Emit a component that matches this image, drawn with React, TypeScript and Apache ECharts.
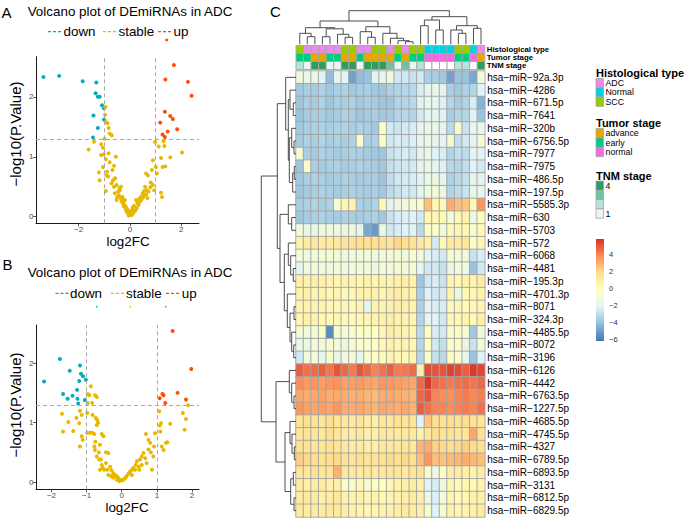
import React, { useEffect, useRef } from 'react';
import * as echarts from 'echarts';

const FONT = '"Liberation Sans", Arial, Helvetica, sans-serif';

// ---------- Volcano data ----------
const volcanoColors = { down: '#00AFBB', stable: '#E7B800', up: '#FC4E07' };

const aDown = [[-3.37,2.33],[-2.76,2.35],[-1.84,2.26],[-1.31,2.24],[-1.34,2.06],[-1.25,2.0],[-1.18,2.0],[-1.09,1.86],[-1.01,1.81],[-1.42,1.69],[-1.01,1.62],[-1.25,1.48],[-1.44,1.32]];
const aUp = [[1.71,2.53],[1.38,2.29],[2.26,2.25],[2.40,2.02],[1.36,1.75],[1.57,1.68],[1.67,1.63],[1.18,1.57],[1.84,1.46],[1.47,1.42],[1.27,1.37],[1.36,1.33]];
const aStable = [[-0.96,1.83],[-0.94,1.58],[-0.88,1.56],[-0.83,1.48],[-0.79,1.39],[-0.71,1.36],[-1.40,1.25],[-1.61,1.12],[-1.12,1.21],[-1.05,1.15],[-1.12,1.03],[-1.02,1.04],[-0.83,1.06],[-0.94,0.96],[-0.79,0.91],[-0.55,1.0],[-0.62,0.85],[-0.68,0.78],[-0.89,0.75],[-1.21,0.74],[-0.85,0.67],[-0.66,0.61],[-0.72,0.56],[-1.18,0.61],[-0.94,0.43],[-0.58,0.64],[-0.52,0.53],[-0.46,0.42],[-0.59,0.39],[-0.39,0.44],[-0.50,0.33],[-0.37,0.31],[-0.33,0.25],[-0.26,0.21],[-0.24,0.17],[-0.16,0.11],[-0.09,0.07],[0.0,0.04],[0.07,0.03],[0.13,0.06],[0.20,0.10],[0.26,0.14],[0.33,0.19],[0.39,0.25],[0.46,0.29],[0.52,0.33],[0.63,0.37],[0.66,0.44],[0.59,0.5],[0.72,0.42],[0.79,0.49],[0.81,0.57],[0.63,0.72],[0.70,0.69],[0.85,0.78],[0.89,0.94],[1.01,0.83],[1.05,0.72],[0.94,0.44],[1.21,0.40],[1.25,0.33],[1.12,1.17],[1.21,0.98],[1.27,0.83],[1.38,0.84],[1.57,0.99],[2.03,1.07],[1.31,1.26],[1.34,1.18],[0.98,1.25],[-0.18,0.18],[-0.13,0.14],[-0.08,0.11],[0.03,0.09],[0.10,0.12],[-0.07,0.06],[-0.20,0.28],[-0.29,0.33],[-0.43,0.36],[-0.62,0.5],[0.16,0.18],[0.29,0.23],[0.37,0.3],[0.49,0.39],[0.55,0.43],[0.24,0.28],[0.42,0.33],[-1.05,0.83],[-0.92,0.69],[-0.35,0.5],[-0.52,0.28],[-0.24,0.25],[0.89,0.53],[-0.05,0.02],[0.05,0.05],[-0.12,0.08],[0.11,0.16],[-0.30,0.27],[-0.41,0.47],[0.58,0.36],[0.68,0.31],[-0.97,1.70],[-0.99,1.30]];

const bDown = [[-2.21,1.69],[-1.76,2.07],[-1.48,1.87],[-1.19,1.96],[-1.16,1.82],[-1.10,1.78],[-1.02,1.72],[-1.21,1.70],[-1.67,1.48],[-1.40,1.45],[-1.54,1.40],[-1.27,1.55],[-1.26,1.40],[-1.24,1.32],[-1.05,1.38]];
const bUp = [[1.45,2.54],[1.98,1.90],[1.59,1.50],[1.16,1.48],[1.19,1.46],[1.08,1.41],[1.24,1.33],[1.83,1.39]];
const bStable = [[-0.88,1.61],[-0.97,1.48],[-0.92,1.46],[-0.76,1.46],[-0.71,1.43],[-0.84,1.33],[-0.97,1.33],[-0.98,1.16],[-0.83,1.13],[-0.74,1.08],[-0.70,1.05],[-0.67,1.0],[-0.71,0.96],[-1.70,1.15],[-1.52,1.01],[-1.67,0.85],[-1.38,0.86],[-1.29,1.08],[-1.21,0.99],[-1.19,1.20],[-1.14,1.13],[-0.90,0.83],[-0.84,0.83],[-0.98,0.83],[-1.14,0.77],[-1.11,0.71],[-1.19,0.60],[-0.78,0.81],[-0.57,0.81],[-0.52,0.77],[-0.75,0.68],[-0.62,0.63],[-0.65,0.50],[-0.45,0.50],[-0.38,0.49],[-0.59,0.38],[-0.45,0.32],[-0.54,0.24],[-0.50,0.21],[-0.41,0.21],[-0.33,0.26],[-0.29,0.20],[-0.24,0.15],[-0.19,0.12],[-0.14,0.10],[-0.10,0.07],[-0.05,0.04],[0.0,0.03],[0.05,0.04],[0.10,0.07],[0.14,0.10],[0.19,0.14],[0.24,0.18],[0.29,0.21],[0.33,0.24],[0.40,0.29],[0.43,0.35],[0.52,0.38],[0.57,0.43],[0.62,0.49],[0.69,0.81],[0.76,0.71],[0.81,0.66],[0.76,0.55],[0.83,0.50],[0.92,0.60],[0.95,0.82],[0.90,0.43],[0.86,0.21],[0.71,0.32],[0.67,0.40],[1.07,1.19],[1.12,0.99],[1.08,0.95],[1.10,0.85],[1.14,0.60],[1.19,0.54],[1.26,0.66],[1.30,0.67],[1.38,0.98],[1.74,1.16],[1.83,1.06],[1.79,0.88],[1.89,1.29],[-0.78,0.60],[-0.76,0.54],[-0.71,0.43],[-0.64,0.38],[-0.57,0.29],[-0.62,0.21],[-0.38,0.12],[-0.30,0.10],[-0.24,0.08],[-0.14,0.04],[-0.07,0.02],[0.29,0.12],[0.38,0.21],[0.48,0.26],[0.57,0.29],[0.50,0.21]];

const xTicksA = [-2, 0, 2];
const yTicksA = [0, 1, 2];
const xTicksB = [-2, -1, 0, 1, 2];
const yTicksB = [0, 1, 2];
const fcCutoffs = [-1, 1];
const pCutoff = 1.301;

// ---------- Heatmap data ----------
const rowNames = ['hsa−miR−92a.3p','hsa−miR−4286','hsa−miR−671.5p','hsa−miR−7641','hsa−miR−320b','hsa−miR−6756.5p','hsa−miR−7977','hsa−miR−7975','hsa−miR−486.5p','hsa−miR−197.5p','hsa−miR−5585.3p','hsa−miR−630','hsa−miR−5703','hsa−miR−572','hsa−miR−6068','hsa−miR−4481','hsa−miR−195.3p','hsa−miR−4701.3p','hsa−miR−8071','hsa−miR−324.3p','hsa−miR−4485.5p','hsa−miR−8072','hsa−miR−3196','hsa−miR−6126','hsa−miR−4442','hsa−miR−6763.5p','hsa−miR−1227.5p','hsa−miR−4685.5p','hsa−miR−4745.5p','hsa−miR−4327','hsa−miR−6789.5p','hsa−miR−6893.5p','hsa−miR−3131','hsa−miR−6812.5p','hsa−miR−6829.5p'];
const sampleIds = ['S1','S2','S3','S4','S5','S6','S7','S8','S9','S10','S11','S12','S13','S14','S15','S16','S17','S18','S19','S20','S21','S22','S23','S24','S25'];

const expr = [
[-1.2,-1.6,-1.6,-2.2,-4.2,-1.8,-2.0,-5.0,-4.2,-4.0,-2.0,-1.8,-1.2,-2.6,-2.6,-2.8,-2.6,-3.6,-3.6,-3.8,-5.0,-4.0,-4.0,-4.8,-1.2],
[-3.8,-3.6,-3.7,-3.5,-3.8,-3.6,-3.5,-3.8,-3.7,-3.6,-3.8,-3.9,-3.5,-3.4,-3.3,-3.2,-2.4,-1.8,-1.6,-2.0,-3.6,-3.8,-3.5,-3.4,-2.2],
[-3.9,-3.6,-3.7,-3.5,-3.9,-3.6,-3.6,-3.5,-3.8,-3.6,-3.7,-3.9,-3.9,-3.4,-3.3,-3.2,-2.2,-1.6,-1.9,-2.3,-3.3,-3.7,-3.4,-2.4,-4.5],
[-4.0,-3.7,-3.6,-3.6,-3.8,-3.7,-3.5,-3.6,-3.9,-3.7,-3.6,-3.8,-3.7,-3.3,-3.2,-3.3,-2.5,-2.0,-1.8,-2.2,-3.6,-3.4,-3.3,-2.2,-4.0],
[-3.8,-3.6,-3.5,-3.5,-3.6,-3.5,-3.4,-3.6,-3.5,-3.6,-3.8,-0.4,-2.6,-2.7,-2.5,-2.4,-1.8,-1.5,-1.6,-2.0,-3.2,-0.8,-2.8,-1.8,-1.6],
[-3.7,-3.5,-3.6,-3.4,-3.6,-3.5,-3.6,-3.5,-0.6,-3.6,-3.5,-0.5,-2.6,-2.4,-2.5,-2.3,-1.9,-1.4,-1.8,-2.0,-0.9,-3.0,-2.6,-1.9,-0.8],
[-0.8,-3.6,-3.7,-3.5,-3.6,-3.7,-3.6,-3.5,-3.6,-3.7,-3.8,-3.9,-2.8,-2.6,-2.4,-2.6,-2.0,-1.6,-2.2,-2.4,-3.4,-3.0,-3.1,-2.0,-2.2],
[-3.9,-0.6,-3.6,-3.7,-3.6,-3.5,-3.7,-3.6,-3.5,-3.6,-3.7,-3.8,-2.9,-2.7,-2.6,-2.5,-1.8,-1.5,-1.8,-2.3,-3.2,-3.3,-3.0,-2.2,-2.6],
[-3.8,-3.6,-3.5,-3.6,-3.7,-3.6,-3.5,-3.6,-3.7,-3.6,-3.6,-3.9,-3.0,-2.6,-2.5,-2.4,-2.2,-1.6,-1.5,-1.9,-3.5,-3.2,-2.9,-1.8,-2.0],
[-3.9,-3.7,-3.6,-3.5,-3.6,-3.7,-3.6,-3.5,-3.6,-3.7,-3.6,-3.8,-3.1,-2.8,-2.5,-2.6,-2.1,-1.2,-1.0,-1.6,-3.4,-3.1,-2.8,-1.6,-1.8],
[-3.6,-3.5,-3.4,-3.6,-3.5,-0.8,0.4,0.6,-3.5,-3.6,-3.4,0.2,-2.0,-1.4,-1.2,-1.0,-0.6,2.6,0.4,0.2,3.0,2.6,2.4,0.3,3.6],
[-3.9,-3.7,-3.6,-3.5,-3.6,-3.7,-3.5,-3.6,-3.7,-3.6,-3.5,-3.8,-2.8,-2.4,-2.3,-2.2,-2.6,0.3,0.4,0.2,-1.0,0.2,0.5,-1.4,-0.2],
[-1.2,-1.6,-1.5,-1.4,-1.3,-1.4,-1.5,-1.3,-1.8,-4.8,-5.2,-1.6,-2.6,-2.4,-2.2,-2.0,-3.2,-0.6,-0.4,-1.2,0.1,0.4,0.3,-0.8,0.2],
[0.8,1.0,1.2,1.0,1.1,1.3,1.5,1.6,1.8,1.8,1.7,1.6,1.5,2.0,1.8,1.4,1.2,0.6,-2.5,0.2,1.2,1.1,1.4,-0.6,0.4],
[-1.0,-1.2,-1.0,-1.1,-0.8,-1.0,-1.2,-1.1,-0.9,-1.0,-1.2,-1.0,-0.9,-1.0,-1.1,-0.8,-0.9,-2.0,-2.4,-2.6,-0.8,-1.0,-1.2,-2.8,-2.4],
[-1.8,-1.2,-1.0,-1.2,-1.4,-1.0,-1.2,-1.0,-1.1,-1.2,-1.3,-1.0,-1.1,-0.9,-1.0,-0.9,-1.8,-2.6,-2.6,-2.9,-1.4,-1.0,-1.2,-4.0,-2.6],
[0.8,0.6,0.8,0.7,0.5,0.4,0.6,0.5,0.4,0.6,0.4,0.5,0.5,0.7,0.8,0.6,-3.9,-2.6,-2.4,-2.8,0.4,0.2,0.6,0.5,0.9],
[0.6,0.8,0.5,0.6,0.4,0.5,0.2,0.3,0.6,0.5,0.6,0.4,0.8,0.9,0.7,0.6,-3.6,-2.2,-2.6,-2.5,0.5,-1.6,0.3,0.4,0.6],
[0.5,0.6,0.6,0.5,0.3,0.2,0.4,0.2,0.5,-1.8,0.6,0.5,0.7,0.9,0.8,0.5,-3.5,-2.0,-2.4,-2.4,0.2,0.4,0.1,0.3,0.5],
[0.4,0.6,0.5,0.3,0.2,0.3,0.2,0.1,0.3,0.4,0.5,0.6,0.8,0.6,0.5,0.4,-3.4,-1.8,-2.2,-2.6,0.4,0.3,0.5,0.1,0.6],
[-0.9,-1.1,-0.8,-0.6,-5.6,-0.8,-1.0,-0.6,-0.4,-0.6,-0.2,0.4,0.8,0.6,0.5,0.4,-3.2,-0.4,-2.4,-2.6,-0.6,-0.4,-0.9,-3.8,-1.2],
[-1.6,-1.4,-1.0,-1.2,-0.8,-1.1,-1.3,-0.9,-0.6,-0.5,-0.4,0.2,0.6,0.4,0.5,0.3,-3.3,-0.2,-2.6,-3.0,-0.4,-0.6,-1.5,-2.8,-1.0],
[-2.6,-1.2,-1.0,-1.8,-0.6,-1.6,-1.2,-1.0,-1.9,-0.6,-0.4,0.1,0.5,0.3,0.2,0.4,-3.4,-0.8,-2.9,-3.2,-0.3,-0.4,-1.8,-4.0,-2.2],
[4.8,4.4,4.5,4.8,4.3,5.0,4.6,4.2,5.0,4.6,4.0,4.4,4.8,4.2,4.3,4.5,0.8,5.2,5.0,5.0,5.4,5.2,4.8,5.6,5.3],
[3.8,3.5,3.6,3.4,3.6,3.7,3.3,3.4,3.5,3.3,3.2,3.6,3.5,3.4,3.3,3.2,4.6,5.6,4.6,4.4,4.2,4.4,4.5,4.3,4.6],
[3.2,3.0,3.1,3.3,3.0,3.1,3.0,2.9,3.0,2.8,2.7,3.0,3.1,3.0,2.9,2.8,4.6,5.0,4.0,3.8,3.7,4.0,4.2,3.9,4.1],
[3.6,3.3,3.2,3.4,3.2,3.6,3.0,3.1,3.2,3.0,2.8,3.2,3.1,3.0,3.2,2.9,4.8,4.4,4.0,4.0,3.8,4.0,4.2,4.0,4.4],
[1.6,1.8,1.6,1.4,1.8,1.5,1.3,1.2,1.5,1.0,0.8,1.4,1.3,1.6,1.5,1.4,-2.2,2.4,1.8,1.6,1.8,1.6,1.8,1.6,1.5],
[1.5,1.6,1.4,1.3,1.8,1.4,1.0,0.9,1.2,0.6,0.8,1.2,1.3,1.0,1.2,1.1,0.6,1.4,1.8,1.6,1.6,1.4,1.5,3.2,1.6],
[1.8,1.6,1.5,1.4,1.6,1.5,1.2,1.0,1.1,0.8,0.7,1.2,1.3,1.2,1.4,1.3,2.8,3.0,2.2,2.0,1.8,2.0,2.2,1.9,1.8],
[2.2,2.0,1.8,1.6,1.8,2.0,1.6,1.4,1.8,1.5,1.4,1.7,1.9,1.8,2.0,1.8,2.6,3.6,2.6,2.5,2.7,2.8,3.0,2.8,2.6],
[1.5,1.3,1.6,1.4,1.5,2.9,1.3,1.2,1.1,1.3,1.0,1.2,1.4,1.3,1.2,1.5,1.6,-0.8,-1.4,-0.4,0.9,1.0,0.8,0.6,0.9],
[1.0,0.8,0.9,1.1,0.6,0.8,-0.4,-0.6,0.2,-0.8,-0.4,-0.2,0.4,0.5,0.8,0.9,0.6,-2.0,-2.4,-1.2,0.3,0.1,0.4,0.2,0.5],
[1.0,1.1,0.9,0.7,1.0,1.2,0.6,0.5,0.7,0.4,0.6,0.3,0.5,0.6,0.8,1.0,0.7,-1.5,-2.3,-1.0,0.4,0.2,0.3,0.6,0.7],
[1.2,1.0,1.1,0.9,1.2,1.3,0.8,0.6,0.5,0.3,0.4,0.6,0.7,0.9,1.1,1.0,0.8,-0.8,-2.2,-0.6,0.6,0.4,0.5,0.8,1.0],
];

const colorbarTicks = [-6, -4, -2, 0, 2, 4];
const colorbarRange = [-6.2, 5.8];
const heatPalette = ['#4575B4', '#91BFDB', '#E0F3F8', '#FFFFBF', '#FEE090', '#FC8D59', '#D73027'];

// ---------- Column annotations ----------
const annotationNames = ['Histological type', 'Tumor stage', 'TNM stage'];
const histType = ['SCC','ADC','ADC','ADC','ADC','ADC','SCC','SCC','ADC','ADC','SCC','SCC','ADC','SCC','ADC','SCC','SCC','Normal','Normal','Normal','Normal','SCC','SCC','Normal','ADC'];
const tumorStage = ['early','early','advance','advance','early','early','advance','advance','early','advance','advance','advance','advance','early','advance','early','early','normal','normal','normal','normal','early','early','normal','advance'];
const tnmStage = [2,1,4,4,1,1,4,4,1,4,4,4,3,1,3,1,2,0,0,0,0,2,2,0,4];

const histLevels = ['ADC', 'Normal', 'SCC'];
const histColors: Record<string, string> = { ADC: '#E88BE9', Normal: '#00D3E0', SCC: '#99CC00' };
const stageLevels = ['advance', 'early', 'normal'];
const stageColors: Record<string, string> = { advance: '#E6A800', early: '#00CC7F', normal: '#F26AE0' };
const tnmLevels = [4, 3, 2, 1];
const tnmColors: Record<number, string> = { 4: '#2E9E5E', 3: '#6CC3A3', 2: '#B6E3DD', 1: '#EAF6F6', 0: '#FFFFFF' };

// ---------- Dendrograms: [height, left, right], leaves are indices ----------
const colTree: any = [33.6,
  [23.3,
    [16.6, [11, 0, [7.6, 1, 2]], [15.5, [7.6, 3, 4], [10, 5, [7, 6, 7]]]],
    [17.6, [12.6, 8, [7, 9, 10]], [11, 11, [6, 12, [3.6, 13, [2.6, 14, 15]]]]]],
  [27.6,
    [24.3, [18.6, 16, 17], [14.3, 18, 19]],
    [18.6, [14.3, 20, [11, 21, 22]], [16, 23, 24]]]];

const rowTree: any = [34.7,
  [18.7,
    [10.3, 0, [7.7, [6, 1, [2.7, 2, 3]], [6.7, [4.3, 4, [2, 5, 6]], [3.3, [1.7, 7, 8], 9]]]],
    [16, [7.7, 10, [4.3, 11, 12]],
      [11.7, [7.7, 13, [5.3, 14, [2.7, 15, 16]]], [8.7, 17, [6, [2, 18, 19], [4.3, 20, [2.3, 21, 22]]]]]]],
  [20,
    [6.7, 23, [4.3, 24, [2, 25, 26]]],
    [11, [6, 27, [4, 28, [1.7, 29, 30]]], [5.3, [2.7, 31, 32], [2, 33, 34]]]]];

function buildSegments(node: any, out: number[][]): [number, number] {
  if (typeof node === 'number') return [node, 0];
  const [h, l, r] = node;
  const a = buildSegments(l, out);
  const b = buildSegments(r, out);
  out.push([a[0], a[1], b[0], b[1], h]);
  return [(a[0] + b[0]) / 2, h];
}

const minusFmt = (v: number) => (v < 0 ? '−' + Math.abs(v) : String(v));

export default function App() {
  const ref = useRef<HTMLDivElement>(null);
  useEffect(() => {
    if (!ref.current) return;
    const chart = echarts.init(ref.current, null, { renderer: 'svg' });

    const colSegs: number[][] = [];
    buildSegments(colTree, colSegs);
    const rowSegs: number[][] = [];
    buildSegments(rowTree, rowSegs);

    const heatData: number[][] = [];
    expr.forEach((row, r) => row.forEach((v, c) => heatData.push([c, r, v])));

    const annotCells: { v: number[]; color: string }[] = [];
    sampleIds.forEach((_, c) => {
      annotCells.push({ v: [c, 0], color: histColors[histType[c]] });
      annotCells.push({ v: [c, 1], color: stageColors[tumorStage[c]] });
      annotCells.push({ v: [c, 2], color: tnmColors[tnmStage[c]] });
    });

    const txt = (text: string, x: number, y: number, size: number, extra: any = {}) => ({
      type: 'text', x, y, silent: true,
      style: { text, fontSize: size, fontFamily: FONT, fill: '#000', verticalAlign: 'middle', align: 'left', ...(extra.style || {}) },
      ...(extra.el || {}),
    });
    const dash = (x1: number, x2: number, y: number, color: string) => ({
      type: 'line', silent: true, shape: { x1, y1: y, x2, y2: y },
      style: { stroke: color, lineWidth: 1.2, lineDash: [3, 2] },
    });
    const dot = (x: number, y: number, r: number, color: string) => ({
      type: 'circle', silent: true, shape: { cx: x, cy: y, r }, style: { fill: color },
    });

    const legendGraphics: any[] = [];
    const legendBlock = (title: string, y0: number, levels: any[], colors: any, labels: (string | null)[], step: number) => {
      legendGraphics.push(txt(title, 596, y0, 11, { style: { fontWeight: 'bold' } }));
      levels.forEach((lv, i) => {
        const top = y0 + 5.5 + i * step;
        legendGraphics.push({ type: 'rect', silent: true, shape: { x: 596, y: top, width: 7.5, height: step },
          style: { fill: colors[lv], stroke: '#A6A6A6', lineWidth: 0.8 } });
        const lab = labels[i];
        if (lab) legendGraphics.push(txt(lab, 605.5, top + step / 2, 8.8));
      });
    };
    legendBlock('Histological type', 73, histLevels, histColors, histLevels, 9.3);
    legendBlock('Tumor stage', 123, stageLevels, stageColors, stageLevels, 9.4);
    legendBlock('TNM stage', 175.5, tnmLevels, tnmColors, ['4', null, null, '1'], 9.3);

    const volcanoAxis = (idx: number, min: number, max: number, ticks: number[]) => ({
      type: 'value', gridIndex: idx, min, max,
      axisLine: { show: true, onZero: false, lineStyle: { color: '#000', width: 0.9 } },
      axisTick: { show: true, length: 3, lineStyle: { color: '#333', width: 0.8 }, customValues: ticks },
      axisLabel: { customValues: ticks, formatter: minusFmt, color: '#4D4D4D', fontSize: 8, fontFamily: FONT, margin: 2.5 },
      splitLine: { show: false },
    });
    const markLine = {
      silent: true, symbol: ['none', 'none'], label: { show: false },
      lineStyle: { type: [4, 3], color: '#A8A8A8', width: 1 },
      data: [{ xAxis: fcCutoffs[0] }, { xAxis: fcCutoffs[1] }, { yAxis: pCutoff }],
    };
    const scatter = (idx: number, data: number[][], color: string, ml?: any) => ({
      type: 'scatter', xAxisIndex: idx, yAxisIndex: idx, data, symbolSize: 4,
      itemStyle: { color, opacity: 1 }, silent: true, ...(ml ? { markLine: ml } : {}),
    });
    const hiddenAxis = (type: string, idx: number, extra: any = {}) => ({
      type, gridIndex: idx, axisLine: { show: false }, axisTick: { show: false },
      axisLabel: { show: false }, splitLine: { show: false }, ...extra,
    });

    const option: any = {
      animation: false,
      textStyle: { fontFamily: FONT },
      grid: [
        { left: 36, top: 56.7, width: 163, height: 166.6 },
        { left: 36, top: 325, width: 163, height: 164.3 },
        { left: 296, top: 10.7, width: 188.8, height: 33.6 },
        { left: 296, top: 45.5, width: 188.8, height: 24 },
        { left: 296, top: 71, width: 188.8, height: 446 },
        { left: 261.3, top: 71, width: 34.7, height: 446 },
        { left: 596, top: 239, width: 8, height: 102 },
      ],
      xAxis: [
        volcanoAxis(0, -3.66, 2.69, xTicksA),
        volcanoAxis(1, -2.44, 2.2, xTicksB),
        hiddenAxis('value', 2, { min: -0.5, max: sampleIds.length - 0.5 }),
        hiddenAxis('category', 3, { data: sampleIds }),
        hiddenAxis('category', 4, { data: sampleIds }),
        hiddenAxis('value', 5, { min: 0, max: 34.7, inverse: true }),
        hiddenAxis('value', 6, { min: 0, max: 1 }),
      ],
      yAxis: [
        volcanoAxis(0, -0.11, 2.67, yTicksA),
        volcanoAxis(1, -0.12, 2.64, yTicksB),
        hiddenAxis('value', 2, { min: 0, max: 33.6 }),
        {
          type: 'category', gridIndex: 3, data: annotationNames, inverse: true, position: 'right',
          axisLine: { show: false }, axisTick: { show: false }, splitLine: { show: false },
          axisLabel: { fontSize: 7.8, fontWeight: 'bold', color: '#000', margin: 2, fontFamily: FONT, interval: 0 },
        },
        {
          type: 'category', gridIndex: 4, data: rowNames, inverse: true, position: 'right',
          axisLine: { show: false }, axisTick: { show: false }, splitLine: { show: false },
          axisLabel: { fontSize: 10, color: '#000', margin: 2.5, fontFamily: FONT, interval: 0 },
        },
        hiddenAxis('value', 5, { min: -0.5, max: rowNames.length - 0.5, inverse: true }),
        {
          type: 'value', gridIndex: 6, min: colorbarRange[0], max: colorbarRange[1], position: 'right',
          axisLine: { show: false }, axisTick: { show: false }, splitLine: { show: false },
          axisLabel: { customValues: colorbarTicks, formatter: minusFmt, fontSize: 7.5, color: '#333', margin: 5, fontFamily: FONT },
        },
      ],
      visualMap: {
        type: 'continuous', show: false, seriesIndex: 8, dimension: 2,
        min: colorbarRange[0], max: colorbarRange[1], inRange: { color: heatPalette },
      },
      series: [
        scatter(0, aDown, volcanoColors.down),
        scatter(0, aStable, volcanoColors.stable, markLine),
        scatter(0, aUp, volcanoColors.up),
        scatter(1, bDown, volcanoColors.down),
        scatter(1, bStable, volcanoColors.stable, markLine),
        scatter(1, bUp, volcanoColors.up),
        {
          type: 'custom', xAxisIndex: 2, yAxisIndex: 2, data: colSegs, silent: true,
          renderItem: (p: any, api: any) => {
            const x1 = api.value(0), h1 = api.value(1), x2 = api.value(2), h2 = api.value(3), h = api.value(4);
            return { type: 'polyline', shape: { points: [api.coord([x1, h1]), api.coord([x1, h]), api.coord([x2, h]), api.coord([x2, h2])] },
              style: { stroke: '#3A3A3A', lineWidth: 0.9, fill: 'none' } };
          },
        },
        {
          type: 'custom', xAxisIndex: 3, yAxisIndex: 3, data: annotCells.map((c) => c.v), silent: true,
          renderItem: (p: any, api: any) => {
            const c = api.coord([api.value(0), api.value(1)]);
            const s = api.size([1, 1]);
            return { type: 'rect', shape: { x: c[0] - s[0] / 2, y: c[1] - s[1] / 2, width: s[0], height: s[1] },
              style: { fill: annotCells[p.dataIndex].color, stroke: '#A6A6A6', lineWidth: 0.9 } };
          },
        },
        {
          type: 'heatmap', xAxisIndex: 4, yAxisIndex: 4, data: heatData, silent: true,
          itemStyle: { borderColor: '#A3A3A3', borderWidth: 0.9 },
        },
        {
          type: 'custom', xAxisIndex: 5, yAxisIndex: 5, data: rowSegs, silent: true,
          renderItem: (p: any, api: any) => {
            const y1 = api.value(0), h1 = api.value(1), y2 = api.value(2), h2 = api.value(3), h = api.value(4);
            return { type: 'polyline', shape: { points: [api.coord([h1, y1]), api.coord([h, y1]), api.coord([h, y2]), api.coord([h2, y2])] },
              style: { stroke: '#3A3A3A', lineWidth: 0.9, fill: 'none' } };
          },
        },
        {
          type: 'custom', xAxisIndex: 6, yAxisIndex: 6, data: [[0, 0]], silent: true,
          renderItem: (p: any, api: any) => {
            const a = api.coord([0, colorbarRange[1]]);
            const b = api.coord([1, colorbarRange[0]]);
            const stops = heatPalette.slice().reverse().map((c, i) => ({ offset: i / (heatPalette.length - 1), color: c }));
            return { type: 'rect', shape: { x: a[0], y: a[1], width: b[0] - a[0], height: b[1] - a[1] },
              style: { fill: new echarts.graphic.LinearGradient(0, 0, 0, 1, stops) } };
          },
        },
      ],
      graphic: [
        txt('A', 1.5, 12.5, 15),
        txt('B', 2.5, 264, 15),
        txt('C', 270, 11, 15),
        txt('Volcano plot of DEmiRNAs in ADC', 130, 11.8, 13.4, { style: { align: 'center' } }),
        txt('Volcano plot of DEmiRNAs in ADC', 130, 272.7, 13.4, { style: { align: 'center' } }),
        dash(48, 62, 31.7, volcanoColors.down), txt('down', 63.5, 31.7, 13.4),
        dash(103, 117, 31.7, volcanoColors.stable), txt('stable', 118.5, 31.7, 13.4),
        dash(158, 172, 31.7, volcanoColors.up), txt('up', 173.5, 31.7, 13.4),
        dot(166.7, 40, 1.5, volcanoColors.up),
        dash(55.5, 69, 293.3, volcanoColors.down), txt('down', 70, 293.3, 13.4),
        dash(111, 125, 293.3, volcanoColors.stable), txt('stable', 126, 293.3, 13.4),
        dash(166, 180, 293.3, volcanoColors.up), txt('up', 181.7, 293.3, 13.4),
        dot(96.7, 306.7, 0.8, volcanoColors.down), dot(130, 306.7, 0.8, volcanoColors.stable), dot(165.7, 306.7, 0.8, volcanoColors.up),
        txt('log2FC', 128, 241, 13.4, { style: { align: 'center' } }),
        txt('log2FC', 127, 507, 13.4, { style: { align: 'center' } }),
        txt('−log10(P.Value)', 15, 134, 15, { style: { align: 'center' }, el: { rotation: Math.PI / 2 } }),
        txt('−log10(P.Value)', 15, 405, 15, { style: { align: 'center' }, el: { rotation: Math.PI / 2 } }),
        ...legendGraphics,
      ],
    };
    chart.setOption(option);
    return () => chart.dispose();
  }, []);
  return <div ref={ref} style={{ position: 'absolute', left: 0, top: 0, width: 685, height: 520, background: '#fff' }} />;
}
